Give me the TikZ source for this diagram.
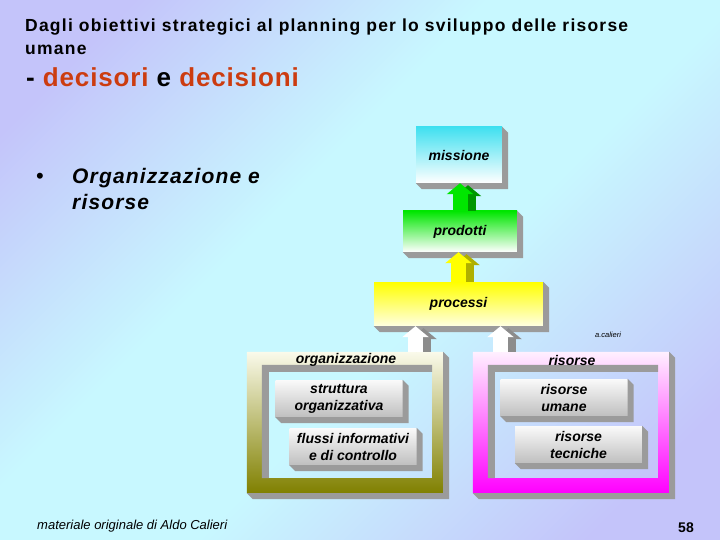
\documentclass[tikz,border=0pt]{standalone}
\usepackage{fontspec}
\setmainfont{Liberation Sans}
\newfontfamily\spacedfont[LetterSpace=7]{Liberation Sans}
\newfontfamily\bulletfont[LetterSpace=5.5]{Liberation Sans}
\newfontfamily\widefont[LetterSpace=3.3]{Liberation Sans}
\usetikzlibrary{calc,arrows.meta}

\definecolor{bglav}{RGB}{196,196,250}
\definecolor{bgcyan}{RGB}{200,248,255}
\definecolor{titred}{RGB}{204,60,16}
\definecolor{misstop}{RGB}{64,224,240}
\definecolor{prodtop}{RGB}{0,230,0}
\definecolor{proctop}{RGB}{255,255,0}
\definecolor{procbot}{RGB}{255,255,225}
\definecolor{boxshade}{RGB}{155,155,155}
\definecolor{orgtop}{RGB}{250,250,235}
\definecolor{orgbot}{RGB}{128,128,0}
\definecolor{ristop}{RGB}{255,240,255}
\definecolor{risbot}{RGB}{255,0,255}
\definecolor{greendark}{RGB}{0,150,0}
\definecolor{yellowdark}{RGB}{175,175,0}
\definecolor{whitedark}{RGB}{140,140,140}

\pgfdeclarehorizontalshading{slidebg}{100bp}{color(0bp)=(bglav); color(22bp)=(bglav); color(42bp)=(bgcyan); color(56bp)=(bgcyan); color(78bp)=(bglav); color(100bp)=(bglav)}

\tikzset{
  boxtxt/.style={font=\fontsize{14}{17}\selectfont\bfseries\itshape, align=center, inner sep=0pt},
  topbox/.style={boxtxt, top color=#1, bottom color=white},
  graybox/.style={boxtxt, minimum width=127, minimum height=37, top color=gray!4, bottom color=gray!50},
  holder/.style={inner sep=0pt},
  headtxt/.style={anchor=base west, inner sep=0pt},
  blockarr/.style={line width=15, -{Triangle[width=26pt,length=11pt]}}
}

% side and bottom of a raised box
\newcommand{\extrude}[1]{\fill[boxshade] (#1.north east) -- ++(6,6) -- ($(#1.south east)+(6,6)$) -- ($(#1.south west)+(6,6)$) -- (#1.south west) -- (#1.south east) -- cycle;}
% hollow frame with inner bevel
\newcommand{\hollowframe}[3]{%
  \coordinate (#1in1) at ([shift={(15,13)}]#1.north west);
  \coordinate (#1in2) at ([shift={(-11,-15)}]#1.south east);
  \shade[even odd rule, top color=#2, bottom color=#3] (#1.north west) rectangle (#1.south east) (#1in1) rectangle (#1in2);
  \extrude{#1}
  \fill[boxshade] (#1in1) -- (#1in1 -| #1in2) -- ++(0,7) -- ($(#1in1)+(7,7)$) -- ($(#1in1 |- #1in2)+(7,0)$) -- (#1in1 |- #1in2) -- cycle;}
% block arrow with its shadow
\newcommand{\blockarrow}[4]{%
  \draw[blockarr, #1] ($(#3)+(8,0)$) -- ($(#4)+(8,2)$);
  \draw[blockarr, #2] (#3) -- (#4);}

\begin{document}
\begin{tikzpicture}[x=1pt,y=-1pt]
  %%%%% BACKGROUND %%%%%
  \shade[shading=slidebg, shading angle=-45] (0,0) rectangle (720,540);
  \useasboundingbox (0,0) rectangle (720,540);

  %%%%% TITLE %%%%%
  \node[headtxt, font=\spacedfont\fontsize{17.5}{22}\selectfont\bfseries] (tit1) at (25,32) {Dagli obiettivi strategici al planning per lo sviluppo delle risorse};
  \node[headtxt, font=\spacedfont\fontsize{17.5}{22}\selectfont\bfseries] (tit2) at (25,55) {umane};
  \node[headtxt, font=\widefont\fontsize{26}{30}\selectfont\bfseries] (tit3) at (26,87) {- \textcolor{titred}{decisori} e \textcolor{titred}{decisioni}};

  \node[headtxt, font=\fontsize{22}{26}\selectfont] (bul) at (36,184) {•};
  \node[headtxt, font=\bulletfont\fontsize{21}{26}\selectfont\bfseries\itshape, align=left] (bultxt) at (72,210) {Organizzazione e\\risorse};

  %%%%% FRAMES %%%%%
  \node[holder, minimum width=196, minimum height=141] (org) at (345,422.5) {};
  \node[holder, minimum width=196, minimum height=141] (ris) at (571,422.5) {};
  \hollowframe{org}{orgtop}{orgbot}
  \hollowframe{ris}{ristop}{risbot}
  \node[boxtxt] (orgtit) at (346,360) {organizzazione};
  \node[boxtxt] (ristit) at (572,360) {risorse};

  \node[graybox] (strutt) at (339,398.5) {struttura\\organizzativa};
  \node[graybox] (flussi) at (353,446.5) {flussi informativi\\e di controllo};
  \node[graybox] (umane) at (564,397.5) {risorse\\umane};
  \node[graybox] (tecn) at (578.5,444.5) {risorse\\tecniche};
  \extrude{strutt} \extrude{flussi} \extrude{umane} \extrude{tecn}

  %%%%% TOP BOXES %%%%%
  \node[topbox=misstop, minimum width=86, minimum height=56] (miss) at (459,155) {missione};
  \node[topbox=prodtop, minimum width=114, minimum height=41] (prod) at (460,231.5) {prodotti};
  \node[topbox=proctop, bottom color=procbot, minimum width=169, minimum height=44] (proc) at (458.5,304) {processi};
  \extrude{miss} \extrude{prod} \extrude{proc}

  \node[font=\fontsize{7.5}{9}\selectfont\itshape] (sign) at (608,335) {a.calieri};

  %%%%% ARROWS %%%%%
  \coordinate (orgout) at (415.5,352);
  \coordinate (risout) at (500.5,352);
  \blockarrow{greendark}{prodtop}{prod.north}{prod.north |- miss.south}
  \blockarrow{yellowdark}{proctop}{proc.north}{proc.north |- prod.south}
  \blockarrow{whitedark}{white}{orgout}{orgout |- proc.south}
  \blockarrow{whitedark}{white}{risout}{risout |- proc.south}

  %%%%% FOOTER %%%%%
  \node[headtxt, font=\fontsize{13}{15}\selectfont\itshape] (foot) at (37,529) {materiale originale di Aldo Calieri};
  \node[anchor=base east, inner sep=0pt, font=\fontsize{14}{16}\selectfont\bfseries] (page) at (694,532) {58};
\end{tikzpicture}
\end{document}
